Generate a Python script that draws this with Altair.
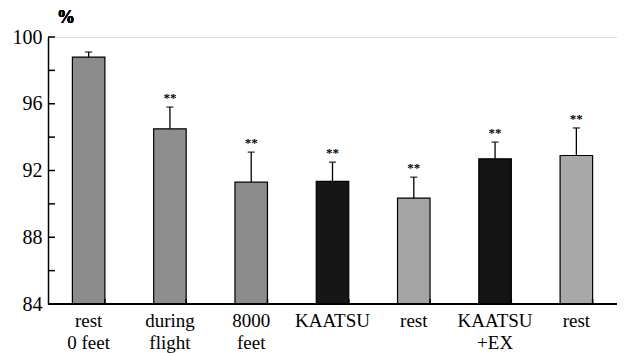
import altair as alt
import pandas as pd

categories = ["rest\n0 feet", "during\nflight", "8000\nfeet", "KAATSU", "rest", "KAATSU\n+EX", "rest"]
keys = ["c1", "c2", "c3", "c4", "c5", "c6", "c7"]
means = [98.8, 94.5, 91.3, 91.35, 90.35, 92.7, 92.9]
errs = [99.1, 95.8, 93.1, 92.5, 91.6, 93.7, 94.55]
stars = ["", "**", "**", "**", "**", "**", "**"]
fills = ["#8c8c8c", "#8e8e8e", "#8c8c8c", "#161616", "#a4a4a4", "#141414", "#a8a8a8"]
y_ticks = [84, 86, 88, 90, 92, 94, 96, 98, 100]

df = pd.DataFrame({"key": keys, "label": categories, "mean": means, "err": errs,
                   "star": stars, "fill": fills})
ticks_df = pd.DataFrame({"v": y_ticks})

W, H = 569, 267
FONT = "Liberation Serif"

xscale = alt.Scale(paddingInner=0.6, paddingOuter=0.3)
xs = alt.X("key:N", sort=keys, axis=None, scale=xscale)
ys = alt.Scale(domain=[84, 100], nice=False, zero=False)
yaxis = alt.Axis(
    title=None, values=y_ticks, labelExpr="datum.value % 4 == 0 ? datum.label : ''",
    ticks=False, domainColor="black", domainWidth=1.5, labelFont=FONT,
    labelFontSize=20, labelColor="black", labelPadding=6, grid=False)


def yq(field):
    return alt.Y(field, scale=ys, axis=yaxis, title=None)


base = alt.Chart(df)

bars = base.mark_bar(stroke="black", strokeWidth=1.2).encode(
    x=xs,
    y=yq("mean:Q"),
    y2=alt.Y2(datum=84),
    fill=alt.Fill("fill:N", scale=None),
)

err_line = base.mark_rule(color="black", strokeWidth=1.3).encode(
    x=xs, y=yq("mean:Q"), y2="err:Q")
err_cap = base.mark_tick(color="black", size=7, thickness=1.5, orient="horizontal").encode(
    x=xs, y=yq("err:Q"))
star_txt = base.mark_text(font=FONT, fontSize=13, fontWeight="bold", baseline="alphabetic",
                          dy=-5, color="black").encode(
    x=xs, y=yq("err:Q"), text="star:N")

ytick_marks = alt.Chart(ticks_df).mark_rule(color="black", strokeWidth=1.5).encode(
    y=yq("v:Q"), x=alt.value(0), x2=alt.value(7))

xtick_marks = base.mark_rule(color="black", strokeWidth=1.5).encode(
    x=alt.X("key:N", sort=keys, axis=None, bandPosition=1, scale=xscale),
    y=alt.value(H), y2=alt.value(H - 5))

xaxis_line = alt.Chart(df).mark_rule(color="black", strokeWidth=1.5).encode(
    x=alt.value(0), x2=alt.value(W), y=alt.value(H))

cat_labels = base.mark_text(font=FONT, fontSize=19, baseline="alphabetic", align="center",
                            lineBreak="\n", lineHeight=22, color="black").encode(
    x=xs, y=alt.value(H + 23), text="label:N")

pct = alt.Chart(df).mark_text(font=FONT, fontSize=18, fontWeight="bold", align="center",
                              baseline="alphabetic", color="black").encode(
    x=alt.value(18), y=alt.value(-14), text=alt.value("%"))

chart = alt.layer(bars, err_line, err_cap, star_txt, ytick_marks, xtick_marks,
                  xaxis_line, cat_labels, pct).properties(
    width=W, height=H,
    autosize=alt.AutoSizeParams(type="none"),
    padding={"left": 40, "top": 29, "right": 0, "bottom": 49},
).configure_view(stroke=None).configure(background="white")

chart.save("out.html", embed_options={"renderer": "svg", "actions": False})
